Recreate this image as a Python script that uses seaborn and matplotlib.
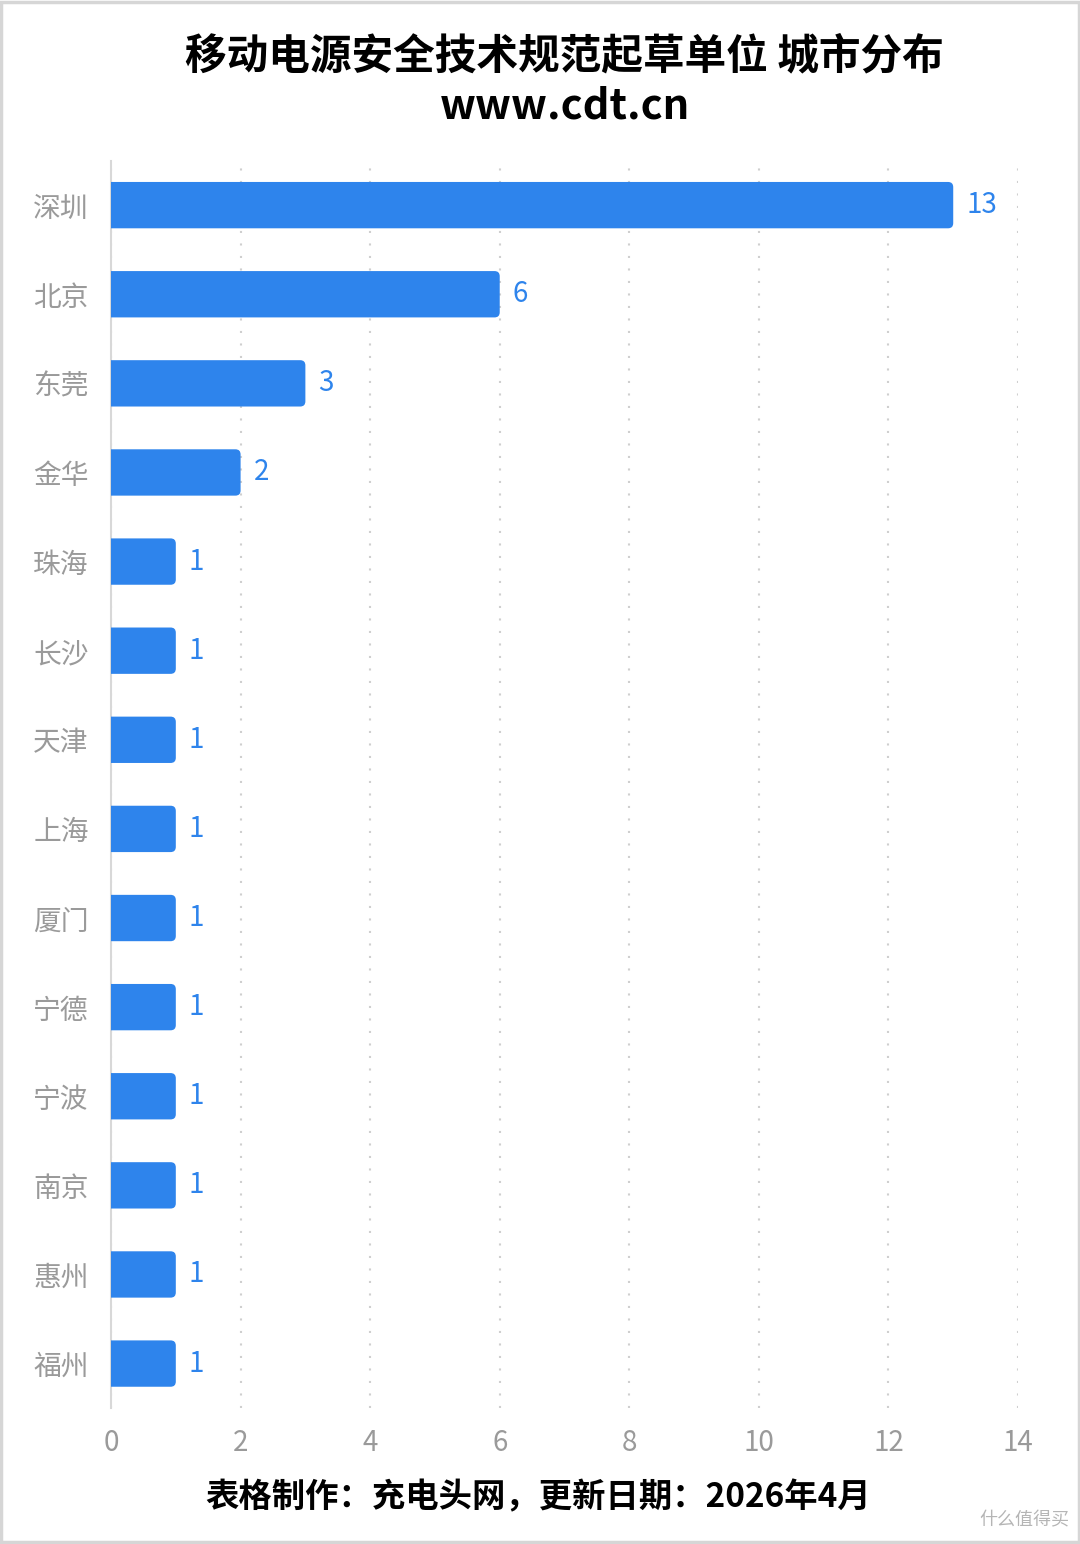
import matplotlib
matplotlib.use('Agg')
import matplotlib.pyplot as plt
import seaborn as sns
import pandas as pd
from matplotlib.patches import FancyBboxPatch, Rectangle

# Data
cities = ['深圳', '北京', '东莞', '金华', '珠海', '长沙', '天津', '上海',
          '厦门', '宁德', '宁波', '南京', '惠州', '福州']
counts = [13, 6, 3, 2, 1, 1, 1, 1, 1, 1, 1, 1, 1, 1]
x_ticks = [0, 2, 4, 6, 8, 10, 12, 14]

title = '移动电源安全技术规范起草单位 城市分布\nwww.cdt.cn'
footer = '表格制作：充电头网，更新日期：2026年4月'

df = pd.DataFrame({'城市': cities, '数量': counts})

sns.set_theme(style='white')
plt.rcParams['font.family'] = ['Noto Sans CJK SC', 'DejaVu Sans']

bar_color = '#2E84EC'
gray = '#9a9a9a'

fig = plt.figure(figsize=(10.8, 15.44), dpi=100)
ax = fig.add_axes([0.1028, 0.088, 0.8398, 0.808])

sns.barplot(data=df, y='城市', x='数量', color=bar_color, width=0.52,
            saturation=1, ax=ax, errorbar=None)

ax.set_xlim(0, 14)
ax.set_ylim(len(cities) - 0.5, -0.5)

# swap plain bars for rounded ones
for p in list(ax.patches):
    x0, y0 = p.get_x(), p.get_y()
    w, h = p.get_width(), p.get_height()
    r = 0.08
    fb = FancyBboxPatch((x0 - r, y0), w + r, h,
                        boxstyle=f'round,pad=0,rounding_size={r}',
                        mutation_aspect=0.73, facecolor=bar_color,
                        edgecolor='none', zorder=3)
    p.remove()
    ax.add_patch(fb)

# value labels
for i, v in enumerate(counts):
    ax.text(v + 0.2, i, str(v), color=bar_color, fontsize=20,
            va='center', ha='left')

ax.set_xticks(x_ticks)
ax.set_xticklabels([str(t) for t in x_ticks])
ax.tick_params(axis='x', colors=gray, labelsize=20, length=0, pad=14)
ax.tick_params(axis='y', colors=gray, labelsize=20, length=0, pad=16)
ax.set_xlabel('')
ax.set_ylabel('')

ax.xaxis.grid(True, linestyle=(0, (1, 5)), color='#cfcfcf', linewidth=1.5)
ax.yaxis.grid(False)
ax.set_axisbelow(True)
for side in ['top', 'right', 'bottom']:
    ax.spines[side].set_visible(False)
ax.spines['left'].set_color('#d8d8d8')
ax.spines['left'].set_linewidth(1.5)

fig.text(0.523, 0.947, title, ha='center', va='center', fontsize=30,
         fontweight='bold', color='black', linespacing=1.25)
fig.text(0.498, 0.030, footer, ha='center', va='center', fontsize=24,
         fontweight='bold', color='black')
fig.text(0.99, 0.015, '什么值得买', ha='right', va='center', fontsize=13,
         color='#b5b5b5')

fig.patches.append(Rectangle((0.001, 0.001), 0.998, 0.998, transform=fig.transFigure,
                             fill=False, edgecolor='#d6d6d6', linewidth=2.5))

fig.savefig('out.png', dpi=100, facecolor='white')
